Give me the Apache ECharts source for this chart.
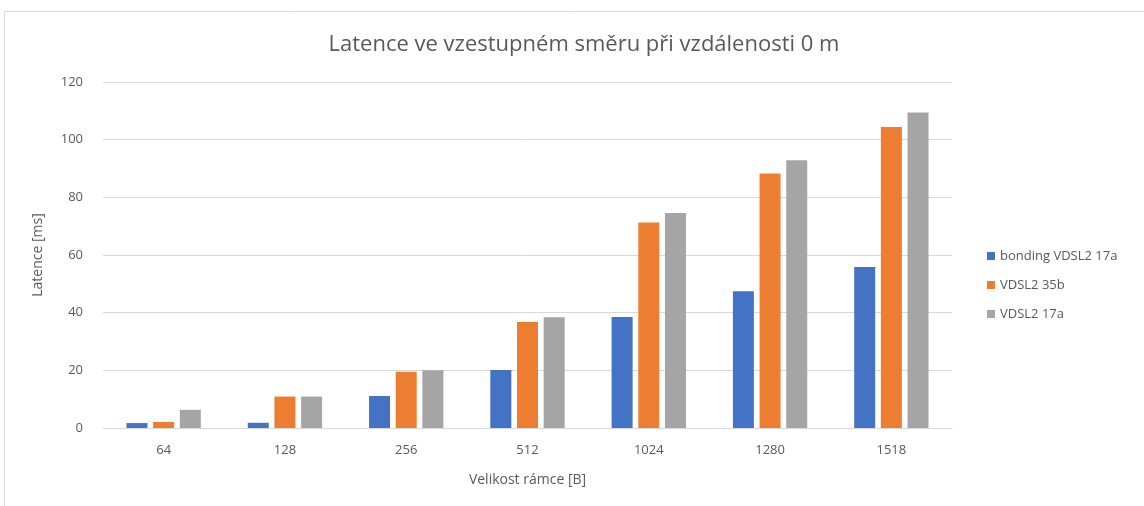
<!DOCTYPE html>
<html>
<head>
<meta charset="utf-8">
<script src="https://cdn.jsdelivr.net/npm/echarts@6/dist/echarts.min.js"></script>
<style>
  html, body { margin: 0; padding: 0; background: #fff; }
  #main { width: 1144px; height: 506px; }
</style>
</head>
<body>
<div id="main"></div>
<script>
// kategorie (velikost rámce)
var categories = ['64', '128', '256', '512', '1024', '1280', '1518'];
// hodnoty latence [ms]
var bondingVals = [1.7, 1.8, 11.1, 20.1, 38.5, 47.4, 55.8];
var vdsl35bVals = [2.1, 10.9, 19.5, 36.8, 71.3, 88.3, 104.4];
var vdsl17aVals = [6.3, 10.9, 20.0, 38.4, 74.6, 92.9, 109.4];
var seriesNames = ['bonding VDSL2 17a', 'VDSL2 35b', 'VDSL2 17a'];
var colors = ['#4472C4', '#ED7D31', '#A5A5A5'];

var textColor = '#595959';
var fontFam = '"Open Sans", "Liberation Sans", sans-serif';

var chart = echarts.init(document.getElementById('main'));

function makeSeries(name, data, color) {
    return {
        name: name,
        type: 'bar',
        data: data,
        barWidth: 21,
        barGap: '27%',
        itemStyle: { color: color },
        emphasis: { disabled: true }
    };
}

var option = {
    animation: false,
    backgroundColor: '#fff',
    textStyle: { fontFamily: fontFam },
    graphic: [{
        type: 'rect',
        shape: { x: 4.5, y: 11.5, width: 1300, height: 700 },
        style: { fill: 'none', stroke: '#D9D9D9', lineWidth: 1 },
        silent: true
    }],
    title: {
        text: 'Latence ve vzestupném směru při vzdálenosti 0 m',
        left: 579,
        textAlign: 'center',
        top: 29,
        textStyle: { color: textColor, fontSize: 22, fontWeight: 'normal', fontFamily: fontFam }
    },
    legend: {
        orient: 'vertical',
        left: 982,
        top: 242,
        itemWidth: 8,
        itemHeight: 8,
        itemGap: 11,
        icon: 'rect',
        textStyle: { color: textColor, fontSize: 13, fontFamily: fontFam, lineHeight: 18 },
        data: seriesNames
    },
    grid: {
        left: 103,
        right: 192,
        top: 82,
        bottom: 78,
        containLabel: false
    },
    xAxis: {
        type: 'category',
        data: categories,
        name: 'Velikost rámce [B]',
        nameLocation: 'middle',
        nameGap: 45,
        nameTextStyle: { color: textColor, fontSize: 14 },
        axisLine: { lineStyle: { color: '#D9D9D9' } },
        axisTick: { show: false },
        axisLabel: { color: textColor, fontSize: 13, margin: 16 }
    },
    yAxis: {
        type: 'value',
        min: 0,
        max: 120,
        interval: 20,
        name: 'Latence [ms]',
        nameLocation: 'middle',
        nameGap: 58,
        nameTextStyle: { color: textColor, fontSize: 14 },
        axisLine: { show: false },
        axisTick: { show: false },
        axisLabel: { color: textColor, fontSize: 13, margin: 20 },
        splitLine: { lineStyle: { color: '#D9D9D9' } }
    },
    series: [
        makeSeries(seriesNames[0], bondingVals, colors[0]),
        makeSeries(seriesNames[1], vdsl35bVals, colors[1]),
        makeSeries(seriesNames[2], vdsl17aVals, colors[2])
    ]
};

chart.setOption(option);
</script>
</body>
</html>
